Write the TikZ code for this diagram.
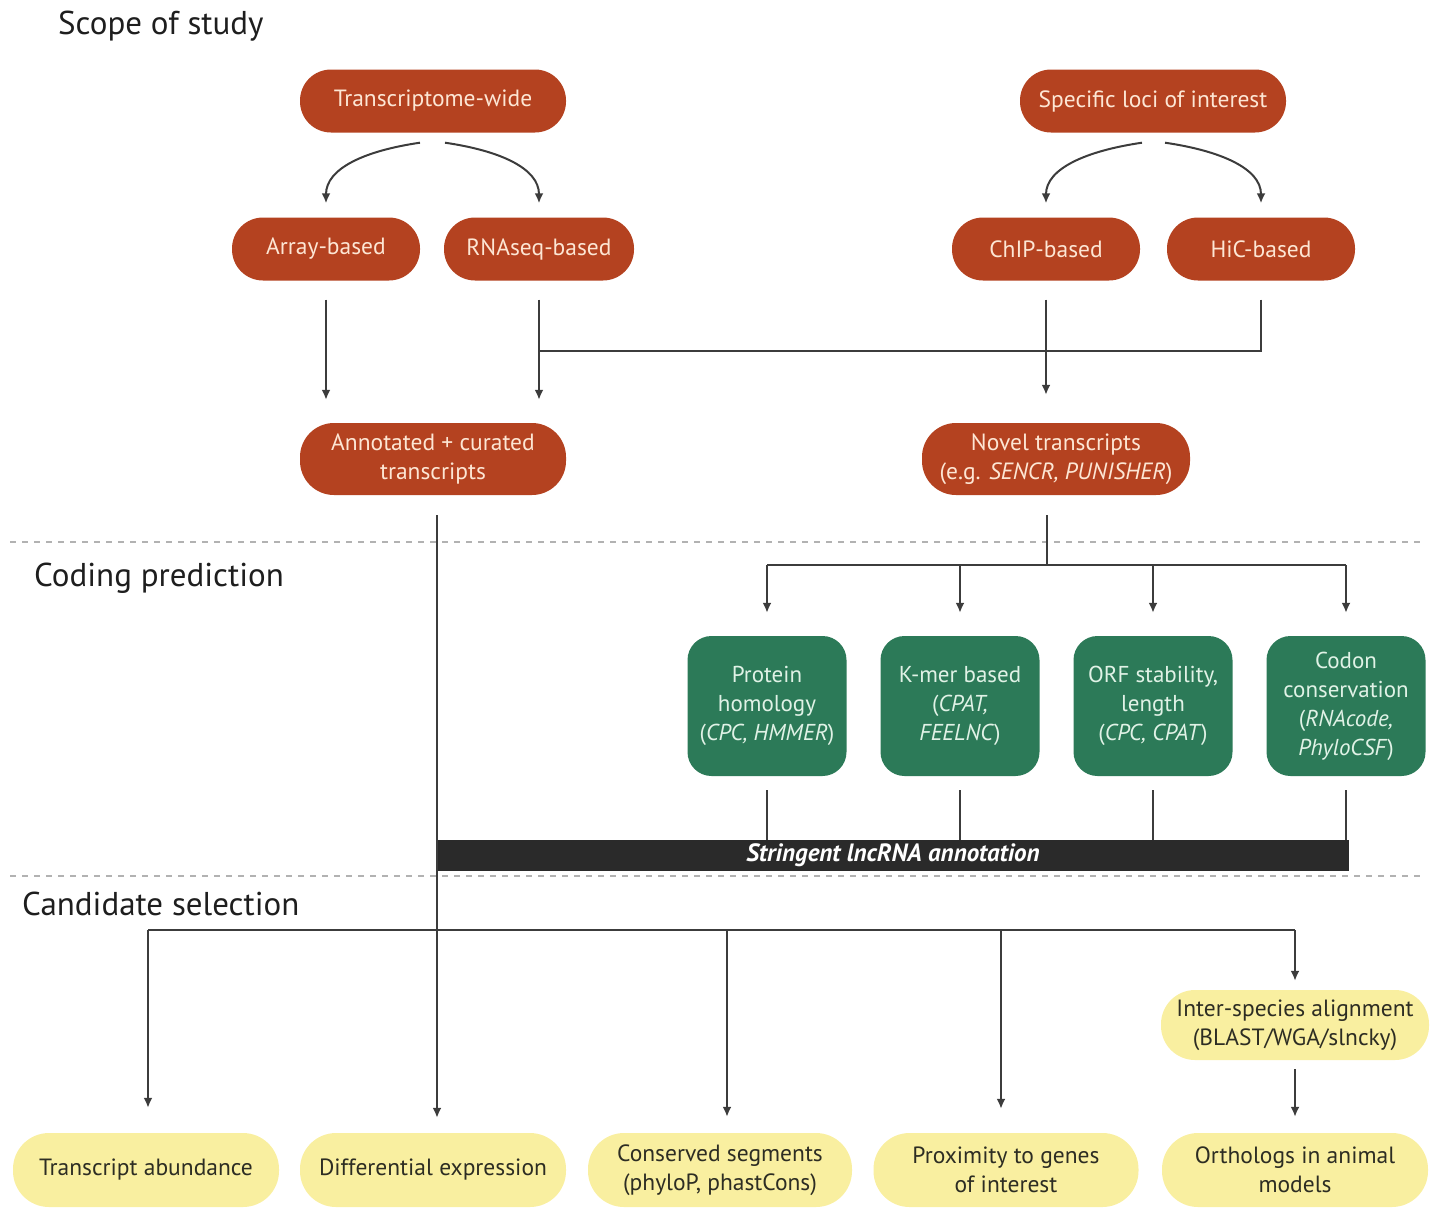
\documentclass[tikz,border=0pt]{standalone}
\usepackage{fontspec}
\setmainfont{PT Sans}
\usetikzlibrary{arrows.meta}
\definecolor{rust}{RGB}{180,66,32}
\definecolor{rusttext}{RGB}{253,230,212}
\definecolor{teal2}{RGB}{44,122,88}
\definecolor{greentext}{RGB}{224,242,230}
\definecolor{pale}{RGB}{249,239,160}
\definecolor{paletext}{RGB}{45,45,35}
\definecolor{linec}{RGB}{60,60,60}
\definecolor{barc}{RGB}{42,42,42}
\definecolor{titlec}{RGB}{30,30,30}
\tikzset{
  redpill/.style={fill=rust, text=rusttext, rounded corners=31pt, minimum width=266pt, minimum height=63pt,
    inner sep=0pt, align=center, font=\fontsize{23.5}{29}\selectfont},
  greenbox/.style={fill=teal2, text=greentext, rounded corners=24pt, minimum width=159pt, minimum height=140pt,
    inner sep=0pt, align=center, font=\fontsize{23}{29}\selectfont},
  yellowpill/.style={fill=pale, text=paletext, rounded corners=36pt, minimum width=266pt, minimum height=74pt,
    inner sep=0pt, align=center, font=\fontsize{23.5}{29}\selectfont},
  barbox/.style={fill=barc, text=white, minimum width=912pt, minimum height=31pt, inner sep=0pt,
    font=\fontsize{25}{27}\selectfont\bfseries\itshape},
  sectitle/.style={text=titlec, anchor=west, inner sep=0pt, font=\fontsize{33}{38}\selectfont},
  conn/.style={draw=linec, line width=2pt},
  arr/.style={conn, -{Latex[length=10pt,width=9pt]}},
  sepline/.style={draw=black!30, line width=2.2pt, dash pattern=on 6pt off 6pt},
}
\begin{document}
\begin{tikzpicture}[x=1pt,y=-1pt]
\useasboundingbox (0,0) rectangle (1434,1210);

% section titles
\node[sectitle] (t1) at (58,26) {Scope of study};
\node[sectitle] (t2) at (34,578) {Coding prediction};
\node[sectitle] (t3) at (22,904) {Candidate selection};

% separators
\draw[sepline] (10,542) -- (1425,542);
\draw[sepline] (10,876) -- (1425,876);

% red nodes
\node[redpill] (tw) at (433,101) {Transcriptome-wide};
\node[redpill] (sl) at (1153,101) {Specific loci of interest};
\node[redpill, minimum width=188pt] (ab) at (326,249) {Array-based};
\node[redpill, minimum width=190pt] (rb) at (539,249) {RNAseq-based};
\node[redpill, minimum width=188pt] (cb) at (1046,249) {ChIP-based};
\node[redpill, minimum width=188pt] (hb) at (1261,249) {HiC-based};
\node[redpill, minimum height=72pt, rounded corners=34pt] (ac) at (433,459) {Annotated + curated\\transcripts};
\node[redpill, minimum width=268pt, minimum height=72pt, rounded corners=34pt] (nt) at (1056,459) {Novel transcripts\\(e.g. \textit{SENCR, PUNISHER})};

% green nodes
\node[greenbox] (ph) at (767,706) {Protein\\homology\\(\textit{CPC, HMMER})};
\node[greenbox] (km) at (960,706) {K-mer based\\(\textit{CPAT,}\\\textit{FEELNC})};
\node[greenbox] (orf) at (1153,706) {ORF stability,\\length\\(\textit{CPC, CPAT})};
\node[greenbox] (cc) at (1346,706) {Codon\\conservation\\(\textit{RNAcode,}\\\textit{PhyloCSF})};

% bar
\node[barbox] (bar) at (893,855.5) {Stringent lncRNA annotation};

% yellow nodes
\node[yellowpill] (ta) at (146,1170) {Transcript abundance};
\node[yellowpill] (de) at (433,1170) {Differential expression};
\node[yellowpill, minimum width=264pt] (cs) at (720,1170) {Conserved segments\\(phyloP, phastCons)};
\node[yellowpill, minimum width=265pt] (px) at (1006,1170) {Proximity to genes\\of interest};
\node[yellowpill] (or) at (1295,1170) {Orthologs in animal\\models};
\node[yellowpill, minimum width=268pt, minimum height=70pt, rounded corners=34pt] (ia) at (1295,1025) {Inter-species alignment\\(BLAST/WGA/slncky)};

% curved arrows
\draw[arr] ([xshift=-13pt,yshift=-10pt]tw.south) .. controls +(-55,8) and +(0,-35) .. ([yshift=14pt]ab.north);
\draw[arr] ([xshift=12pt,yshift=-10pt]tw.south) .. controls +(55,8) and +(0,-35) .. ([yshift=14pt]rb.north);
\draw[arr] ([xshift=-11pt,yshift=-10pt]sl.south) .. controls +(-55,8) and +(0,-35) .. ([yshift=14pt]cb.north);
\draw[arr] ([xshift=12pt,yshift=-10pt]sl.south) .. controls +(55,8) and +(0,-35) .. ([yshift=14pt]hb.north);

% to transcripts
\draw[arr, shorten <=19pt, shorten >=23pt] (ab.south) -- (ab.south |- ac.north);
\draw[arr, shorten <=19pt, shorten >=23pt] (rb.south) -- (rb.south |- ac.north);
\draw[arr, shorten <=19pt, shorten >=28pt] (cb.south) -- (cb.south |- nt.north);
\coordinate (hy) at (0,351);
\draw[conn, shorten <=19pt] (hb.south) |- (rb.south |- hy);

% novel transcripts to coding prediction
\coordinate (hub) at (1047,565);
\draw[conn, shorten <=20pt] (hub |- nt.south) -- (hub);
\draw[conn] (ph.north |- hub) -- (cc.north |- hub);
\foreach \n in {ph,km,orf,cc} {
  \draw[arr, shorten >=23pt] (\n.north |- hub) -- (\n.north);
  \draw[conn, shorten <=14pt] (\n.south) -- (\n.south |- bar.north);
}

% annotated line down
\coordinate (acx) at ([xshift=4pt]ac.south);
\draw[arr, shorten <=20pt, shorten >=15pt] (acx) -- (acx |- de.north);

% candidate selection
\coordinate (cy) at (0,930);
\coordinate (a1) at ([xshift=2pt]ta.north);
\coordinate (a3) at ([xshift=7pt]cs.north);
\coordinate (a4) at ([xshift=-5pt]px.north);
\draw[conn] (a1 |- cy) -- (ia.north |- cy);
\draw[arr, shorten >=25pt] (a1 |- cy) -- (a1);
\draw[arr, shorten >=16pt] (a3 |- cy) -- (a3);
\draw[arr, shorten >=24pt] (a4 |- cy) -- (a4);
\draw[arr, shorten >=9pt] (ia.north |- cy) -- (ia.north);
\draw[arr, shorten <=9pt, shorten >=16pt] (ia.south) -- (or.north);
\end{tikzpicture}
\end{document}
